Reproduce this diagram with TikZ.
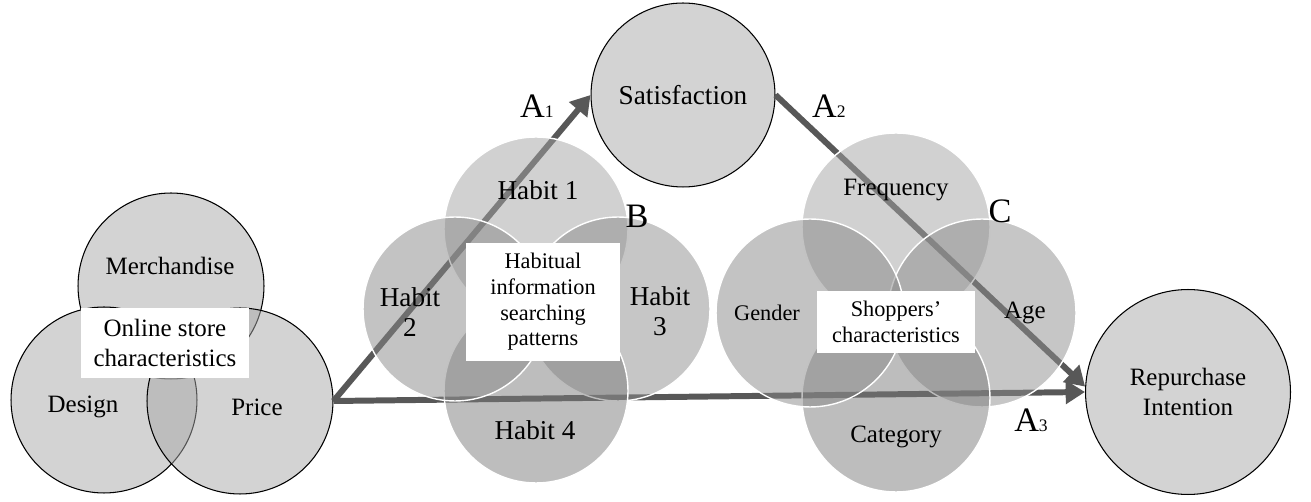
\documentclass[tikz,border=0pt]{standalone}
\usepackage{fontspec}
\setmainfont{Liberation Serif}
\usetikzlibrary{arrows.meta}
\definecolor{setgray}{RGB}{167,167,167}
\definecolor{solidgray}{RGB}{211,211,211}
\definecolor{vennone}{RGB}{163,163,163}
\definecolor{venntwo}{RGB}{135,135,135}
\definecolor{vennthree}{RGB}{141,141,141}
\definecolor{vennfour}{RGB}{123,123,123}
\definecolor{arrgray}{RGB}{88,88,88}
\newcommand{\fsmid}{\fontsize{14.2pt}{17pt}\selectfont}
\newcommand{\fshab}{\fontsize{15.5pt}{17pt}\selectfont}
\newcommand{\fssmall}{\fontsize{12.7pt}{14.6pt}\selectfont}
\newcommand{\fsbig}{\fontsize{19.5pt}{22pt}\selectfont}
\newcommand{\fssub}{\fontsize{10pt}{12pt}\selectfont}
\tikzset{
    setcirc/.style={circle, draw=black, line width=0.6pt, fill=setgray, fill opacity=0.5, inner sep=0pt, minimum size=3.72cm},
    vcirc/.style={circle, draw=white, line width=0.8pt, fill=#1, fill opacity=0.5, inner sep=0pt, minimum size=3.68cm},
    solidcirc/.style={circle, draw=black, line width=0.6pt, fill=solidgray, inner sep=0pt, align=center},
    whitebox/.style={rectangle, fill=white, inner sep=0pt, align=center},
    arr/.style={-{Triangle[length=11pt, width=13pt]}, line width=3.4pt, draw=arrgray},
    biglbl/.style={font=\fsbig, inner sep=0pt}
}
\begin{document}
\begin{tikzpicture}[x=0.02cm, y=-0.02cm]
    \useasboundingbox (0,0) rectangle (1311,502);
    % online store characteristics
    \node[setcirc] (merch) at (171,286) {};
    \node[setcirc] (design) at (104,400) {};
    \node[setcirc] (price) at (240,401) {};
    \node[whitebox, minimum width=3.38cm, minimum height=1.42cm, font=\fsmid] (store) at (165,343) {Online store\\characteristics};
    \node[font=\fsmid] (merchtxt) at (170,266) {Merchandise};
    \node[font=\fsmid] (designtxt) at (83,407) {Design};
    \node[font=\fsmid] (pricetxt) at (257,407) {Price};
    % outcomes
    \node[solidcirc, minimum size=3.68cm, font=\fshab] (satis) at (683,95) {Satisfaction};
    \node[solidcirc, minimum size=4.1cm, font=\fsmid] (repur) at (1188,392) {Repurchase\\Intention};
    \draw[arr] (price.east) -- (satis.west);
    \draw[arr] (satis.east) -- (repur.177);
    \draw[arr] (price.east) -- (repur.west);
    % habits
    \node[vcirc=vennone] (hone) at (536,229) {};
    \node[vcirc=vennthree] (hthree) at (618,309) {};
    \node[vcirc=vennfour] (hfour) at (536,391) {};
    \node[vcirc=venntwo] (htwo) at (455,309) {};
    \node[whitebox, minimum width=3.08cm, minimum height=2.36cm, font=\fssmall] (habbox) at (543,302) {Habitual\\information\\searching\\patterns};
    \node[font=\fshab] (honetxt) at (538,190) {Habit 1};
    \node[font=\fshab, align=center] (htwotxt) at (410,312) {Habit\\2};
    \node[font=\fshab, align=center] (hthreetxt) at (660,311) {Habit\\3};
    \node[font=\fshab] (hfourtxt) at (535,430) {Habit 4};
    % shoppers
    \node[vcirc=vennone, minimum size=3.76cm] (freq) at (896,227) {};
    \node[vcirc=vennthree, minimum size=3.76cm] (age) at (982,313) {};
    \node[vcirc=vennfour, minimum size=3.76cm] (categ) at (896,398) {};
    \node[vcirc=venntwo, minimum size=3.76cm] (gender) at (810,313) {};
    \node[whitebox, minimum width=3.18cm, minimum height=1.26cm, font=\fssmall] (shopbox) at (896,322) {Shoppers’\\characteristics};
    \node[font=\fsmid] (freqtxt) at (896,190) {Frequency};
    \node[font=\fssmall] (gendertxt) at (767,313) {Gender};
    \node[font=\fsmid] (agetxt) at (1025,313) {Age};
    \node[font=\fsmid] (categtxt) at (896,437) {Category};
    % path labels
    \node[biglbl] (aone) at (537,106) {A{\fssub 1}};
    \node[biglbl] (atwo) at (829,106) {A{\fssub 2}};
    \node[biglbl] (athree) at (1031,420) {A{\fssub 3}};
    \node[biglbl] (blbl) at (637,216) {B};
    \node[biglbl] (clbl) at (1000,211) {C};
\end{tikzpicture}
\end{document}
